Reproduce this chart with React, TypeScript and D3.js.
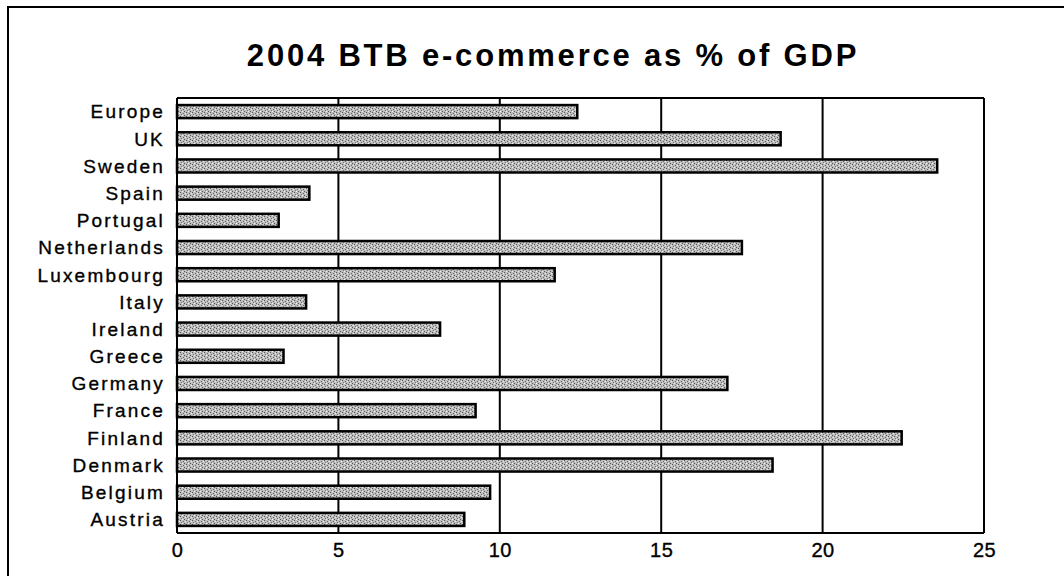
import React from "react";
import * as d3 from "d3";

const categories = ["Europe","UK","Sweden","Spain","Portugal","Netherlands","Luxembourg","Italy","Ireland","Greece","Germany","France","Finland","Denmark","Belgium","Austria"];
const values = [12.4,18.7,23.55,4.1,3.15,17.5,11.7,4.0,8.15,3.3,17.05,9.25,22.45,18.45,9.7,8.9];
const xTicks = [0,5,10,15,20,25];
const title = "2004 BTB e-commerce as % of GDP";

export default function App() {
  const W = 1064, H = 576;
  const left = 177, right = 984, top = 98, bottom = 533;
  const x = d3.scaleLinear().domain([0, 25]).range([left, right]);
  const y = d3.scaleBand<string>().domain(categories).range([top, bottom]).paddingInner(0.52).paddingOuter(0.26);
  const font = "Arial, 'Liberation Sans', Helvetica, sans-serif";
  return (
    <svg width={W} height={H} style={{ position: "absolute", left: 0, top: 0, background: "#fff" }}>
      <defs>
        <pattern id="tex" width="6" height="4" patternUnits="userSpaceOnUse">
          <rect width="6" height="4" fill="#bdbdbd" />
          <rect x="0" y="0" width="1" height="1" fill="#555" />
          <rect x="3" y="1" width="1" height="1" fill="#666" />
          <rect x="1" y="2" width="1" height="1" fill="#777" />
          <rect x="4" y="3" width="1" height="1" fill="#555" />
          <rect x="5" y="1" width="1" height="1" fill="#eeeeee" />
          <rect x="2" y="3" width="1" height="1" fill="#f2f2f2" />
        </pattern>
      </defs>
      {/* outer frame */}
      <rect x={8} y={7} width={1070} height={590} fill="none" stroke="#000" strokeWidth={2} />
      <text x={553} y={66} textAnchor="middle" fontFamily={font} fontWeight="bold" fontSize={31} letterSpacing={2.8}>{title}</text>
      {/* gridlines */}
      {xTicks.map(t => (
        <line key={"g"+t} x1={x(t)} x2={x(t)} y1={top} y2={bottom} stroke="#000" strokeWidth={2} />
      ))}
      <line x1={left} x2={right} y1={top} y2={top} stroke="#000" strokeWidth={2} />
      <line x1={left} x2={right} y1={bottom} y2={bottom} stroke="#000" strokeWidth={2} />
      {/* bars */}
      {categories.map((c, i) => (
        <rect key={c} x={x(0)} y={y(c)!} width={x(values[i]) - x(0)} height={y.bandwidth()}
          fill="url(#tex)" stroke="#000" strokeWidth={2.5} />
      ))}
      {/* category labels */}
      {categories.map(c => (
        <text key={"l"+c} x={165} y={y(c)! + y.bandwidth() / 2} dy="0.36em" textAnchor="end"
          fontFamily={font} fontSize={19} letterSpacing={2.2} stroke="#000" strokeWidth={0.35}>{c}</text>
      ))}
      {/* x tick labels */}
      {xTicks.map(t => (
        <text key={"t"+t} x={x(t) + 0.5} y={557} textAnchor="middle" fontFamily={font} fontSize={20}
          letterSpacing={0.5} stroke="#000" strokeWidth={0.35}>{t}</text>
      ))}
    </svg>
  );
}
